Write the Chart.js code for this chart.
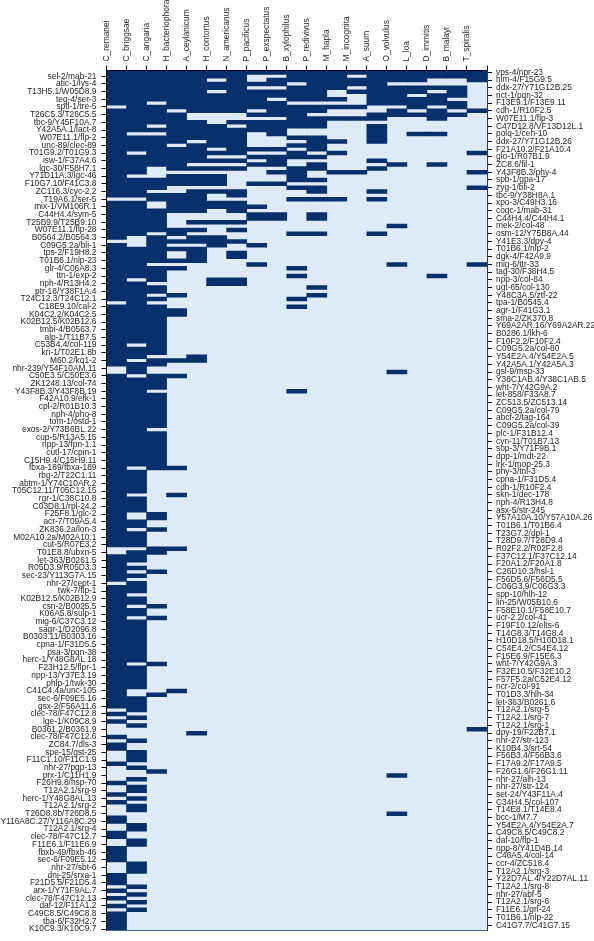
<!DOCTYPE html>
<html><head><meta charset="utf-8">
<style>html,body{margin:0;padding:0;background:#fff}canvas{display:block}</style>
<script src="https://cdn.jsdelivr.net/npm/chart.js@4"></script></head>
<body><canvas id="c" width="594" height="941"></canvas>
<script>
const species=["C_remanei","C_briggsae","C_angaria","H_bacteriophora","A_ceylanicum","H_contortus","N_americanus","P_pacificus","P_exspectatus","B_xylophilus","P_redivivus","M_hapla","M_incognita","A_suum","O_volvulus","L_loa","D_immitis","B_malayi","T_spiralis"];
const leftLabels=["sel-2/mab-21","atic-1/lys-4","T13H5.1/W05D8.9","teg-4/ser-3","sptl-1/tre-5","T26C5.3/T26C5.5","tbc-9/Y45F10A.7","Y42A5A.1/lact-8","W07E11.1/flp-2","unc-89/clec-89","T01G9.2/T01G9.3","isw-1/F37A4.6","lgc-30/F58H7.1","Y71D11A.3/lgc-46","F10G7.10/F41C3.8","ZC116.3/cyc-2.2","T19A6.1/ser-5","mix-1/VM106R.1","C44H4.4/sym-5","T25B9.9/T25B9.10","W07E11.1/flp-28","B0564.2/B0564.3","C09G5.2a/bli-1","tps-2/F19H8.2","T01B6.1/nlp-23","glr-4/C06A8.3","ttn-1/exp-2","nph-4/R13H4.2","ptr-18/Y38F1A.4","T24C12.3/T24C12.1","C18E9.10/cal-2","K04C2.2/K04C2.5","K02B12.5/K02B12.6","tmbi-4/B0563.7","alp-1/T11B7.5","C53B4.4/col-119","kri-1/T02E1.8b","M60.2/kq1-2","nhr-239/Y54F10AM.11","C50E3.5/C50E3.6","ZK1248.13/col-74","Y43F8B.3/Y43F8B.19","F42A10.9/efk-1","cpl-2/R01B10.3","nph-4/pho-8","tom-1/ostd-1","exos-2/Y73B6BL.22","cup-5/R13A5.15","npp-13/fpn-1.1","cutl-17/cpin-1","C15H9.4/C15H9.11","fbxa-189/fbxa-189","rbg-2/T22C1.11","abtm-1/Y74C10AR.2","T05C12.11/T05C12.15","rgr-1/C38C10.8","C03D8.1/rpl-24.2","F25F8.1/glc-2","acr-7/T09A5.4","ZK836.2a/lon-3","M02A10.2a/M02A10.1","cut-5/R07E3.2","T01E8.8/ubxn-5","let-363/B0261.5","R05D3.9/R05D3.3","sec-23/Y113G7A.15","nhr-27/cept-1","twk-7/flp-1","K02B12.5/K02B12.9","csn-2/B0025.5","K06A5.8/sulp-1","mig-6/C37C3.12","sagr-1/D2096.8","B0303.11/B0303.16","cpna-1/F31D5.5","psa-3/pqn-38","herc-1/Y48G8AL.18","F23H12.5/flpr-1","npp-13/Y37E3.19","phlp-1/twk-30","C41C4.4a/unc-105","sec-6/F09E5.16","gsx-2/F56A11.6","clec-78/F47C12.8","lge-1/K09C8.9","B0361.2/B0361.9","clec-78/F47C12.6","ZC84.7/dls-3","spe-15/gst-25","F11C1.10/F11C1.9","nhr-27/pgp-13","prx-1/C11H1.9","F26H9.8/hsp-70","T12A2.1/srg-9","herc-1/Y48G8AL.13","T12A2.1/srg-2","T26D8.8b/T26D8.5","Y116A8C.27/Y116A8C.29","T12A2.1/srg-4","clec-78/F47C12.7","F11E6.1/F11E6.9","fbxb-49/fbxb-46","sec-6/F09E5.12","nhr-27/sbt-6","dnj-25/srxa-1","F21D5.5/F21D5.4","arx-1/Y71F9AL.7","clec-78/F47C12.13","daf-12/F11A1.2","C49C8.5/C49C8.8","tba-6/F32H2.7","K10C9.3/K10C9.7"];
const rightLabels=["vps-4/npr-23","him-4/F15G9.5","ddx-27/Y71G12B.25","rict-1/pqn-32","F13E9.1/F13E9.11","cdh-1/R10F2.5","W07E11.1/flp-3","C47D12.8/VF13D12L.1","polq-1/ceh-10","ddx-27/Y71G12B.26","F21A10.2/F21A10.4","glo-1/R07B1.9","ZC8.6/fil-1","Y43F8B.3/phy-4","spb-1/gpa-17","zyg-1/bli-2","tbc-9/Y38H8A.1","xpo-3/C49H3.16","cogc-1/mab-31","C44H4.4/C44H4.1","mek-2/col-48","osm-12/Y75B8A.44","Y41E3.3/dpy-4","T01B6.1/nlp-2","dgk-4/F42A9.9","mig-6/ttr-33","tag-30/F38H4.5","npp-3/col-84","ugt-65/col-130","Y48C3A.5/ztf-22","tpa-1/B0545.4","agr-1/F41G3.1","sma-2/ZK370.8","Y69A2AR.16/Y69A2AR.22","B0286.1/lkh-6","F10F2.2/F10F2.4","C09G5.2a/col-80","Y54E2A.4/Y54E2A.5","Y42A5A.1/Y42A5A.3","gsl-9/msp-33","Y38C1AB.4/Y38C1AB.5","wht-7/Y42G9A.2","let-858/F33A8.7","ZC513.5/ZC513.14","C09G5.2a/col-79","abcf-2/tag-164","C09G5.2a/col-39","plc-1/F31B12.4","cyn-11/T01B7.13","sop-3/Y71F9B.1","dpp-1/mdt-22","lrk-1/mop-25.3","phy-3/tnl-3","cpna-1/F31D5.4","cdh-1/R10F2.4","skn-1/dec-178","nph-4/R13H4.8","asx-5/str-245","Y57A10A.10/Y57A10A.26","T01B6.1/T01B6.4","T23G7.2/dpl-1","T28D9.7/T28D9.4","R02F2.2/R02F2.8","F37C12.1/F37C12.14","F20A1.2/F20A1.8","C26D10.3/hsl-1","F56D5.6/F56D5.5","C06G3.9/C06G3.3","spp-10/hlh-12","lin-25/W05B10.6","F58E10.1/F58E10.7","ucr-2.2/col-41","F19F10.12/elts-6","T14G8.3/T14G8.4","H10D18.5/H10D18.1","C54E4.2/C54E4.12","F15E6.9/F15E6.3","wht-7/Y42G9A.3","F32E10.5/F32E10.2","F57F5.2a/C52E4.12","ncr-2/col-91","T01D3.3/hlh-34","let-363/B0261.6","T12A2.1/srg-5","T12A2.1/srg-7","T12A2.1/srg-1","dpy-19/F22B7.1","nhr-27/str-123","K10B4.3/srt-54","F56B3.4/F56B3.6","F17A9.2/F17A9.5","F26G1.6/F26G1.11","nhr-27/alh-13","nhr-27/str-124","set-24/Y43F11A.4","C34H4.5/col-107","T14E8.1/T14E8.4","bcc-1/M7.7","Y54E2A.4/Y54E2A.7","C49C8.5/C49C8.2","daf-10/flp-1","npp-8/Y41D4B.14","C46A5.4/col-14","ccr-4/ZC518.4","T12A2.1/srg-3","Y22D7AL.4/Y22D7AL.11","T12A2.1/srg-8","nhr-27/abf-5","T12A2.1/srg-6","F11E6.1/grl-24","T01B6.1/nlp-22","C41G7.7/C41G7.15"];
// runs of rows [first,last] in which the pair is present, one array per species
const C_remanei=[[0,8],[10,32],[34,43],[45,59],[61,76],[79,123],[126,132],[134,165],[167,167],[169,169],[173,173],[175,176],[180,180],[185,185],[188,188],[190,190],[194,195],[198,199],[202,205],[209,211],[213,213],[215,215],[217,217],[219,223]];
const C_briggsae=[[0,15],[17,20],[22,26],[28,32],[34,42],[46,53],[55,70],[72,74],[76,78],[80,102],[104,109],[111,114],[117,118],[120,123],[125,127],[129,129],[131,131],[133,135],[137,138],[140,141],[143,153],[155,160],[163,166],[168,168],[170,170],[174,174],[177,179],[181,181],[184,184],[186,187],[189,189],[191,192],[196,197],[200,201],[206,208],[212,212],[214,214],[216,216],[218,218]];
const C_angaria=[[0,7],[9,13],[15,15],[17,24],[28,30],[32,33],[36,41],[43,49],[51,54],[56,57],[59,59],[61,73],[75,76],[79,82],[84,92],[94,103],[115,116],[119,119],[124,125],[130,130],[139,139],[142,142],[154,154],[162,162],[182,182]];
const H_bacteriophora=[[0,9],[11,18],[20,25],[27,29],[32,36],[41,42],[44,44],[46,46],[49,49],[51,51],[58,58],[62,63],[75,75],[79,79],[103,103],[110,110],[124,124],[161,161]];
const A_ceylanicum=[[0,10],[13,17],[19,23],[25,25],[27,29],[31,36],[39,39],[41,41],[43,44],[46,49],[74,75],[172,172]];
const H_contortus=[[0,1],[3,4],[6,10],[14,19],[21,21],[23,23],[25,25],[27,29],[31,31],[34,35],[39,39],[43,45],[54,55]];
const N_americanus=[[0,10],[13,13],[15,21],[23,23],[25,25],[31,32],[34,36],[39,39],[41,41],[44,44],[47,48],[54,55]];
const P_pacificus=[[0,0],[3,3],[5,9],[11,11],[13,15],[20,20],[22,22],[24,24],[29,29],[35,35],[37,38],[45,45],[50,50]];
const P_exspectatus=[[0,0],[2,3],[5,6],[8,11],[13,16],[20,20],[22,24],[26,26],[29,29],[37,38]];
const B_xylophilus=[[0,2],[4,7],[9,14],[17,17],[19,19],[21,22],[25,28],[30,30],[33,33],[42,42],[51,51],[53,53],[59,59],[61,61],[83,83]];
const P_redivivus=[[0,7],[9,10],[12,14],[17,20],[22,22],[24,25],[28,28],[30,31],[33,33],[37,38],[42,42],[56,56],[58,58]];
const M_hapla=[[0,4],[7,7],[9,9],[12,12],[18,18],[21,21],[26,26],[33,33]];
const M_incognita=[[0,0],[2,3],[5,5],[9,9],[12,12],[26,26]];
const A_suum=[[0,8],[11,12],[14,18],[23,23],[25,25],[31,31],[33,33],[42,42]];
const O_volvulus=[[0,2],[4,8],[10,11],[24,24],[40,40],[50,50],[78,78],[183,183],[193,193]];
const L_loa=[[0,2],[4,5],[7,9],[11,11],[16,16]];
const D_immitis=[[0,1],[4,4],[6,8],[10,12],[16,16],[24,24],[53,53]];
const B_malayi=[[0,1],[4,6],[8,9],[11,11]];
const T_spiralis=[[0,2],[10,10],[21,21],[26,26],[30,30],[50,50],[171,171]];
const presence=[C_remanei,C_briggsae,C_angaria,H_bacteriophora,A_ceylanicum,H_contortus,N_americanus,P_pacificus,P_exspectatus,B_xylophilus,P_redivivus,M_hapla,M_incognita,A_suum,O_volvulus,L_loa,D_immitis,B_malayi,T_spiralis];
const rowCount=leftLabels.length+rightLabels.length;

const dark=[],light=[];
species.forEach((s,i)=>{
  light.push({x:s,y:[0,rowCount]});
  presence[i].forEach(r=>dark.push({x:s,y:[r[0],r[1]+1]}));
});
const font={family:'"Liberation Sans", Arial, sans-serif',size:8.4};
const inkColor='#262626';
new Chart(document.getElementById('c'),{
  type:'bar',
  data:{labels:species,datasets:[
    {label:'present',data:dark,backgroundColor:'#08306B',borderWidth:0,order:0,grouped:false,barPercentage:1,categoryPercentage:1,xAxisID:'x',yAxisID:'y'},
    {label:'absent',data:light,backgroundColor:'#DEEBF7',borderWidth:0,order:1,grouped:false,barPercentage:1,categoryPercentage:1,xAxisID:'x',yAxisID:'y'}
  ]},
  options:{
    responsive:false,animation:false,
    layout:{padding:0},
    plugins:{legend:{display:false},tooltip:{enabled:false}},
    scales:{
      x:{type:'category',position:'top',offset:true,
        grid:{display:true,drawOnChartArea:false,tickLength:5,tickColor:'#000'},
        border:{color:'#000',z:1},
        ticks:{autoSkip:false,minRotation:90,maxRotation:90,padding:4,color:inkColor,font},
        afterFit(s){s.height=70.5}},
      xb:{type:'linear',position:'bottom',min:0,max:1,
        grid:{display:true,drawOnChartArea:false,drawTicks:false},
        border:{color:'#4a6a9c',z:1},
        ticks:{display:false},
        afterFit(s){s.height=1}},
      y:{type:'linear',position:'left',reverse:true,min:0,max:rowCount,
        grid:{display:true,drawOnChartArea:false,tickLength:5,tickColor:'#000'},
        border:{color:'#000',z:1},
        afterBuildTicks(a){a.ticks=leftLabels.map((l,i)=>({value:2*i+1.5}))},
        ticks:{autoSkip:false,padding:5,color:inkColor,font,callback:(v,i)=>leftLabels[i]},
        afterFit(s){s.width=106.5}},
      y2:{type:'linear',position:'right',reverse:true,min:0,max:rowCount,
        grid:{display:true,drawOnChartArea:false,tickLength:5,tickColor:'#000'},
        border:{color:'#1c3f78',z:1},
        afterBuildTicks(a){a.ticks=rightLabels.map((l,i)=>({value:2*i+0.5}))},
        ticks:{autoSkip:false,padding:4,color:inkColor,font,callback:(v,i)=>rightLabels[i]},
        afterFit(s){s.width=107}}
    }
  }
});
</script></body></html>
